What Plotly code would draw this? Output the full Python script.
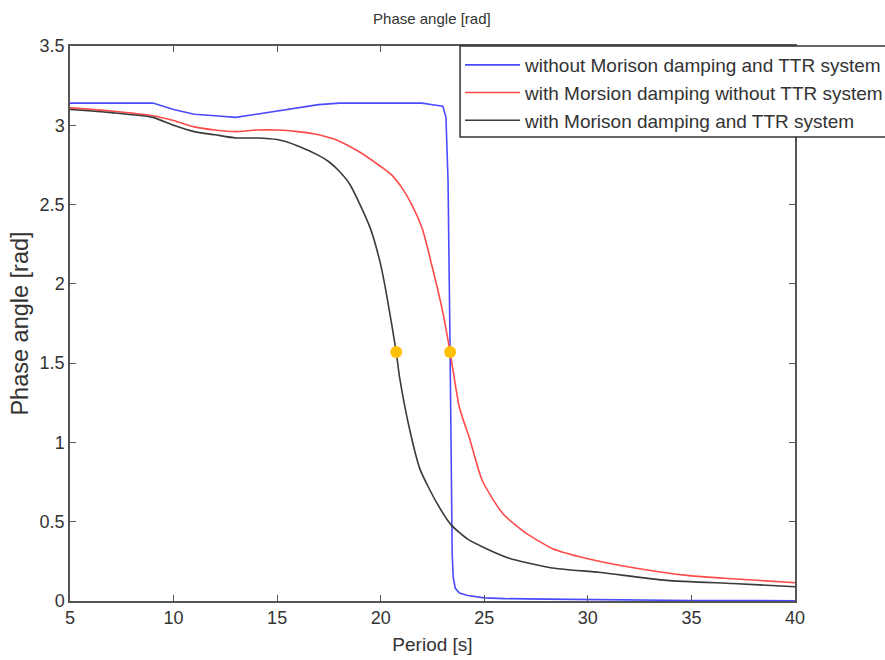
import plotly.graph_objects as go

# Data
blue_x = [5, 9, 10, 11, 12, 13, 14, 15, 16, 17, 18, 19, 20, 21, 22, 22.5, 23.0, 23.15, 23.25,
          23.35, 23.45, 23.5, 23.6, 23.8, 24.2, 25, 26, 28, 30, 31, 35, 40]
blue_y = [3.14, 3.14, 3.10, 3.07, 3.06, 3.05, 3.07, 3.09, 3.11, 3.13, 3.14, 3.14, 3.14, 3.14, 3.14, 3.13, 3.12, 3.05, 2.65,
          1.57, 0.30, 0.15, 0.08, 0.05, 0.035, 0.02, 0.015, 0.012, 0.01, 0.005, 0.003, 0.002]

red_x = [5, 7, 9, 10, 11, 12, 13, 14, 15, 16, 17, 18, 19, 20, 20.5, 21, 21.5, 22, 22.5, 23, 23.35,
         23.8, 24.3, 24.9, 25.9, 27.0, 28.3, 29.9, 32.2, 34.9, 37, 40]
red_y = [3.11, 3.09, 3.06, 3.03, 2.99, 2.97, 2.96, 2.97, 2.97, 2.96, 2.94, 2.90, 2.83, 2.74, 2.69, 2.61, 2.50, 2.35, 2.10, 1.82, 1.57,
         1.22, 1.02, 0.76, 0.55, 0.43, 0.33, 0.27, 0.21, 0.16, 0.14, 0.115]

black_x = [5, 7, 9, 10, 11, 12, 13, 14, 15, 16, 17, 17.5, 18, 18.5, 19, 19.5, 20, 20.3, 20.75,
           20.9, 21.4, 21.9, 22.7, 23.4, 24.2, 25.1, 26.2, 28.2, 30.6, 33.8, 37, 40]
black_y = [3.10, 3.08, 3.05, 3.00, 2.96, 2.94, 2.92, 2.92, 2.91, 2.87, 2.81, 2.77, 2.71, 2.63, 2.50, 2.35, 2.12, 1.92, 1.57,
           1.42, 1.08, 0.83, 0.62, 0.48, 0.39, 0.33, 0.27, 0.21, 0.18, 0.13, 0.11, 0.09]

mark_x = [20.75, 23.35]
mark_y = [1.5708, 1.5708]

names = ["without Morison damping and TTR system",
         "with Morsion damping without TTR system",
         "with Morison damping and TTR system"]

x_ticks = [5, 10, 15, 20, 25, 30, 35, 40]
y_ticks = [0, 0.5, 1, 1.5, 2, 2.5, 3, 3.5]

FONT = "Liberation Sans, Arial, sans-serif"
TXT = "#333333"
fig = go.Figure()
fig.add_trace(go.Scatter(x=blue_x, y=blue_y, mode="lines", name=names[0],
                         line=dict(color="#4a4aff", width=1.6)))
fig.add_trace(go.Scatter(x=red_x, y=red_y, mode="lines", name=names[1],
                         line=dict(color="#ff4a4a", width=1.6, shape="spline", smoothing=0.6)))
fig.add_trace(go.Scatter(x=black_x, y=black_y, mode="lines", name=names[2],
                         line=dict(color="#3a3a3a", width=1.6, shape="spline", smoothing=0.6)))
fig.add_trace(go.Scatter(x=mark_x, y=mark_y, mode="markers", showlegend=False,
                         marker=dict(color="#ffc107", size=12)))

axis_common = dict(showgrid=False, zeroline=False, showline=True, linecolor="#555555", linewidth=1.5,
                   mirror="allticks", ticks="inside", ticklen=6, tickcolor="#555555",
                   tickfont=dict(family=FONT, size=18, color=TXT))

# legend frame (runs past the right edge of the figure, as in the reference)
fig.add_shape(type="rect", xref="paper", yref="paper", x0=0.538, x1=1.35, y0=0.836, y1=1.0,
              fillcolor="white", line=dict(color="#333333", width=1.5), layer="above")

fig.update_layout(
    width=885, height=660,
    margin=dict(l=70, r=90, t=46, b=59, autoexpand=False),
    paper_bgcolor="white", plot_bgcolor="white",
    title=dict(text="Phase angle [rad]", x=0.488, xanchor="center", y=0.972, yanchor="middle",
               font=dict(family=FONT, size=15, color=TXT)),
    xaxis=dict(range=[5, 40], tickvals=x_ticks, ticktext=[str(v) for v in x_ticks],
               title=dict(text="Period [s]", standoff=10, font=dict(family=FONT, size=19, color=TXT)),
               **axis_common),
    yaxis=dict(range=[0, 3.5], tickvals=y_ticks, ticktext=[f"{v:g}" for v in y_ticks],
               title=dict(text="Phase angle [rad]", standoff=4, font=dict(family=FONT, size=23.5, color=TXT)),
               **axis_common),
    legend=dict(x=0.538, y=1.0, xanchor="left", yanchor="top", bgcolor="rgba(0,0,0,0)",
                borderwidth=0, itemwidth=55,
                font=dict(family=FONT, size=19, color=TXT)),
    showlegend=True,
)

fig.write_html("out.html")
